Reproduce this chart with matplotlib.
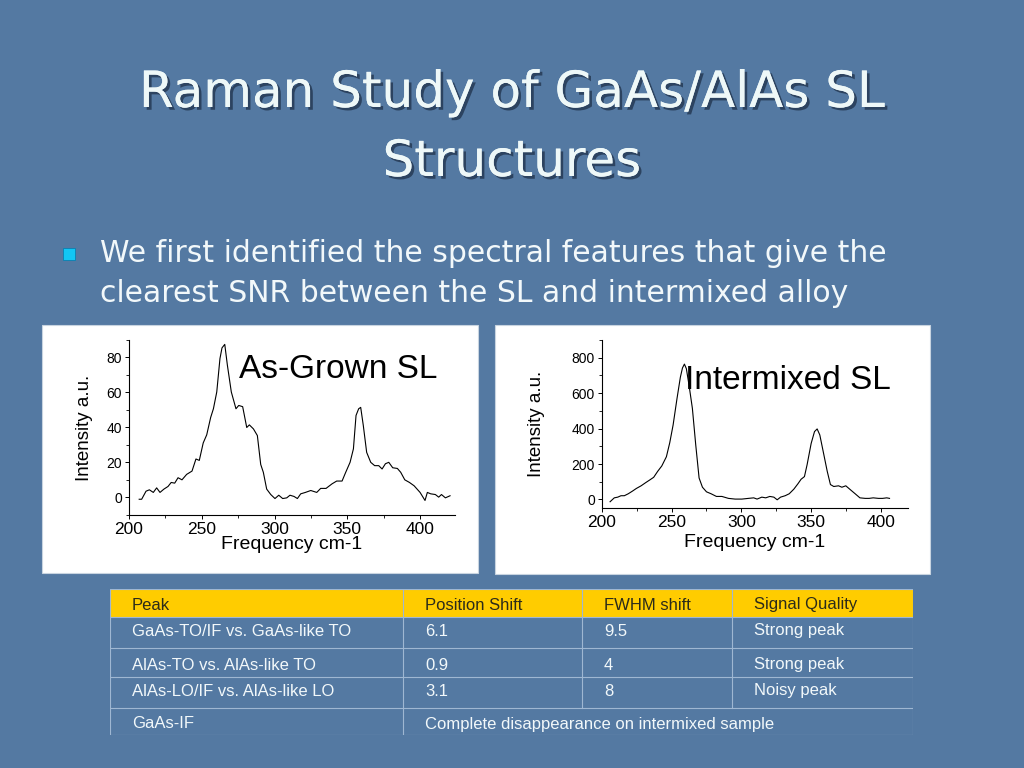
import matplotlib
matplotlib.use('Agg')
import matplotlib.pyplot as plt
import matplotlib.patheffects as pe
from matplotlib.patches import Rectangle
from matplotlib.ticker import MultipleLocator

# ----- DADOS
asgrown_freq = [207, 208.7, 211.7, 214, 216.7, 219, 221.3, 224, 226.8, 229, 231.4, 233.7,
                236.4, 239.6, 243.3, 246, 248.3, 251, 253.4, 256.1, 258, 260.3, 262.5, 263.9,
                265.8, 267.6, 270.3, 273.5, 275.4, 278.1, 280.9, 282.7, 285.5, 288.2, 290.5,
                292.3, 294.6, 297.4, 300.3, 302.9, 305.6, 308.4, 310.6, 313.4, 315.7, 318,
                321.2, 324.9, 329, 331.7, 335.4, 339.5, 342.7, 346.4, 348.7, 351.9, 354.2,
                356, 357.8, 359.2, 361, 363.3, 366.1, 368.8, 371.6, 373.9, 376.2, 378.5,
                381.2, 384.4, 386.7, 389.5, 392.7, 395.9, 400, 403.4, 405, 407.3, 410.5,
                412.8, 414.7, 417.4, 420.6]
asgrown_int = [-1, -1, 3.6, 4.4, 2.9, 5.5, 2.9, 4.8, 6.3, 8.6, 8.2, 11.3, 10.1, 13.2, 15.1,
               22, 21.2, 31.2, 35.8, 45.7, 50.7, 60.3, 79.4, 85.5, 87.5, 75.6, 60.3, 50.7,
               52.6, 51.9, 40, 41.5, 39.2, 35.4, 18.9, 14.4, 4.8, 1.7, -0.6, 1.3, -0.6, -0.2,
               1.3, 0.6, -0.6, 2.1, 2.9, 4, 2.9, 5.2, 5.2, 7.8, 9.4, 9.4, 14, 20.1, 27.8,
               46.9, 50.7, 51.5, 41.1, 25.8, 20.1, 18.2, 18.2, 16.3, 19.3, 20.1, 17, 16.6,
               14.4, 10.1, 8.6, 6.7, 2.9, -1.7, 2.9, 2.1, 1.7, 0.2, 1.7, -0.2, 1]

intermixed_freq = [206, 209, 211.5, 213.8, 216.2, 219, 222, 224.8, 228.2, 231.5, 234.4,
                   237.2, 240.1, 243, 246.3, 248.7, 251.1, 253.9, 256.3, 257.8, 259.2, 260.6,
                   262.5, 264.9, 267.3, 269.7, 272.1, 275, 278.3, 282.1, 286, 290.7, 295.5,
                   300.3, 305, 308.8, 311.2, 314.6, 317.4, 320.3, 323.2, 325.6, 328, 331.3,
                   334.2, 337.5, 340.4, 342.7, 345.1, 347, 349.9, 352.3, 354.2, 356.1, 359,
                   361.4, 363.7, 366.1, 369.5, 371.9, 374.7, 378.1, 381.4, 384.8, 388.6,
                   391.4, 394.3, 398.1, 401, 404, 406]
intermixed_int = [-13, 9, 13, 21, 21, 32, 47, 62, 77, 95, 110, 125, 159, 189, 241, 320, 420,
                  570, 690, 742, 764, 738, 645, 514, 308, 121, 69, 43, 32, 17, 17, 6, 2, 2,
                  6, 9, 2, 13, 9, 17, 13, -2, 13, 21, 32, 58, 88, 114, 129, 196, 316, 383,
                  398, 364, 252, 159, 84, 73, 77, 69, 77, 54, 32, 9, 6, 6, 9, 6, 6, 9, 6]

tabela_cab = ["Peak", "Position Shift", "FWHM shift", "Signal Quality"]
tabela_linhas = [
    ["GaAs-TO/IF vs. GaAs-like TO", "6.1", "9.5", "Strong peak"],
    ["AlAs-TO vs. AlAs-like TO", "0.9", "4", "Strong peak"],
    ["AlAs-LO/IF vs. AlAs-like LO", "3.1", "8", "Noisy peak"],
    ["GaAs-IF", "Complete disappearance on intermixed sample"],
]

W, H = 1024, 768
FUNDO = '#5479a2'
TEXTO = '#f2f8fa'


def fx(x):
    return x / W


def fy(y):
    return 1 - y / H


fig = plt.figure(figsize=(10.24, 7.68), dpi=100, facecolor=FUNDO)

# ----- TITULO
sombra = [pe.withSimplePatchShadow(offset=(2, -2), shadow_rgbFace='#1c2d44', alpha=0.7),
          pe.Normal()]
fig.text(0.5, fy(107), "Raman Study of GaAs/AlAs SL", ha='center', va='baseline',
         fontsize=36, color='#eef8f8', family='DejaVu Sans', path_effects=sombra)
fig.text(0.5, fy(176), "Structures", ha='center', va='baseline',
         fontsize=36, color='#eef8f8', family='DejaVu Sans', path_effects=sombra)

# ----- BULLET
fig.patches.append(Rectangle((fx(63), fy(260)), 12 / W, 12 / H, transform=fig.transFigure,
                             facecolor='#12c6f4', edgecolor='#0a7fb0', lw=0.6))
fig.text(fx(100), fy(262), "We first identified the spectral features that give the",
         ha='left', va='baseline', fontsize=21.5, color=TEXTO, family='DejaVu Sans')
fig.text(fx(100), fy(302), "clearest SNR between the SL and intermixed alloy",
         ha='left', va='baseline', fontsize=21.5, color=TEXTO, family='DejaVu Sans')

# ----- PAINEIS BRANCOS
for x0, x1, y0, y1 in [(42, 478, 325, 573), (495, 930, 325, 574)]:
    fig.patches.append(Rectangle((fx(x0), fy(y1)), (x1 - x0) / W, (y1 - y0) / H,
                                 transform=fig.transFigure, facecolor='white',
                                 edgecolor='#c8d4e0', lw=0.8, zorder=-5))


def estilo_eixo(ax, xlim, ylim, ymaj, ymin):
    ax.set_facecolor('none')
    ax.set_xlim(*xlim)
    ax.set_ylim(*ylim)
    for s in ['top', 'right']:
        ax.spines[s].set_visible(False)
    for s in ['left', 'bottom']:
        ax.spines[s].set_linewidth(0.8)
    ax.xaxis.set_major_locator(MultipleLocator(50))
    ax.xaxis.set_minor_locator(MultipleLocator(25))
    ax.yaxis.set_major_locator(MultipleLocator(ymaj))
    ax.yaxis.set_minor_locator(MultipleLocator(ymin))
    ax.tick_params(which='major', direction='out', length=3, width=0.7, pad=2)
    ax.tick_params(which='minor', direction='out', length=2, width=0.6)
    ax.tick_params(axis='x', labelsize=12.5)
    ax.tick_params(axis='y', labelsize=10)
    ax.set_yticks([t for t in ax.get_yticks() if 0 <= t <= ylim[1] - 1])
    for lab in ax.get_xticklabels() + ax.get_yticklabels():
        lab.set_family('Liberation Sans')


# ----- GRAFICO 1: As-Grown
ax1 = fig.add_axes([fx(129), fy(515), (455 - 129) / W, (515 - 340) / H])
ax1.plot(asgrown_freq, asgrown_int, color='black', lw=0.8)
estilo_eixo(ax1, (200, 424), (-10, 90), 20, 10)
ax1.set_xlabel("Frequency cm-1", fontsize=14, family='Liberation Sans', labelpad=-1)
ax1.set_ylabel("Intensity a.u.", fontsize=13.5, family='Liberation Sans', labelpad=10)
ax1.text(344, 68, "As-Grown SL", ha='center', va='baseline', fontsize=24,
         family='Liberation Sans')

# ----- GRAFICO 2: Intermixed
ax2 = fig.add_axes([fx(601.7), fy(508.3), (907.7 - 601.7) / W, (508.3 - 340) / H])
ax2.plot(intermixed_freq, intermixed_int, color='black', lw=0.8)
estilo_eixo(ax2, (200, 419), (-50, 900), 200, 100)
ax2.set_xlabel("Frequency cm-1", fontsize=14, family='Liberation Sans', labelpad=3)
ax2.set_ylabel("Intensity a.u.", fontsize=13.5, family='Liberation Sans', labelpad=19)
ax2.text(333, 622, "Intermixed SL", ha='center', va='baseline', fontsize=24,
         family='Liberation Sans')

# ----- TABELA
axt = fig.add_axes([fx(110), fy(735), (913 - 110) / W, (735 - 589) / H])
axt.set_xlim(110, 913)
axt.set_ylim(735, 589)
axt.axis('off')

col_x = [110, 403, 582, 732, 913]
lin_y = [589, 617, 648, 677, 708, 735]
base_y = [609.5, 635.5, 669.5, 695.5, 728.5]
cor_linha = '#9fb7d2'

axt.add_patch(Rectangle((col_x[0], lin_y[0]), col_x[-1] - col_x[0], lin_y[1] - lin_y[0],
                        facecolor='#ffcc00', edgecolor='none'))
for y in lin_y:
    axt.plot([col_x[0], col_x[-1]], [y, y], color=cor_linha, lw=0.8)
for i, x in enumerate(col_x):
    y_fim = lin_y[-1] if i in (0, 1, 4) else lin_y[-2]
    axt.plot([x, x], [lin_y[0], y_fim], color=cor_linha, lw=0.8)

for j, txt in enumerate(tabela_cab):
    axt.text(col_x[j] + 22, base_y[0], txt, ha='left', va='baseline',
             fontsize=12, color='#2b2b1a', family='Liberation Sans')
for i, linha in enumerate(tabela_linhas):
    for j, txt in enumerate(linha):
        axt.text(col_x[j] + 22, base_y[i + 1], txt, ha='left', va='baseline',
                 fontsize=12, color=TEXTO, family='Liberation Sans')

fig.savefig("out.png", dpi=100, facecolor=FUNDO)
